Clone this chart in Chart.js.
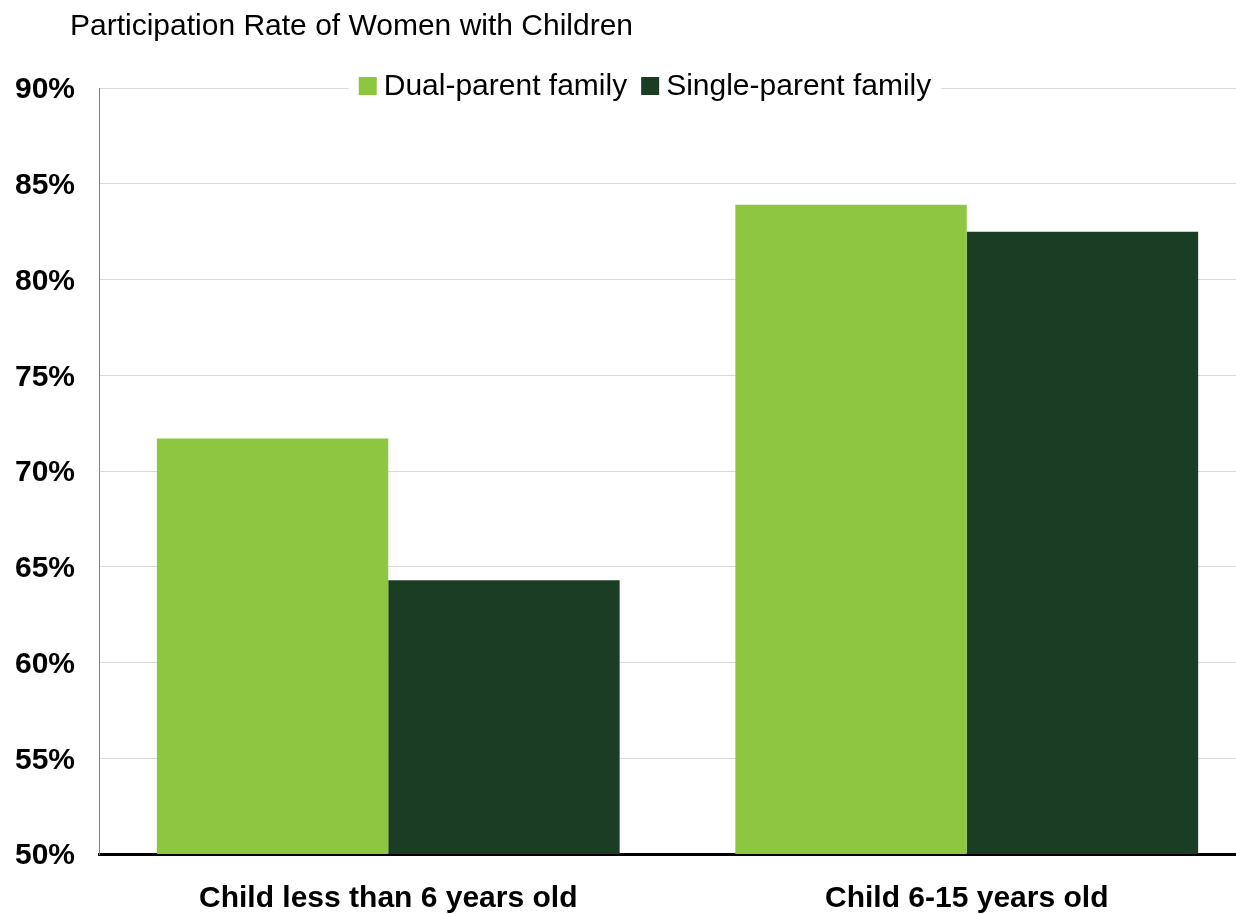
<!DOCTYPE html>
<html>
<head>
<meta charset="utf-8">
<script src="https://cdn.jsdelivr.net/npm/chart.js@4/dist/chart.umd.min.js"></script>
<style>
  html, body { margin: 0; padding: 0; background: #fff; overflow: hidden; }
  #wrap { position: absolute; left: 0; top: 0; width: 1256px; height: 914px; }
  #title { position: absolute; left: 70px; top: 8px; font: 30px "Liberation Sans", Arial, sans-serif; color: #000; line-height: 34px; }
</style>
</head>
<body>
<div id="wrap"><canvas id="chart" width="1256" height="914"></canvas></div>
<div id="title">Participation Rate of Women with Children</div>
<script>
const categories = ["Child less than 6 years old", "Child 6-15 years old"];
const dualParent = [71.7, 83.9];
const singleParent = [64.3, 82.5];
const yTicks = [50, 55, 60, 65, 70, 75, 80, 85, 90];

const FONT = '"Liberation Sans", Arial, sans-serif';

// legend drawn over the top gridline, with white background
const overlayLegend = {
  id: "overlayLegend",
  afterDraw(chart) {
    const ctx = chart.ctx;
    const items = chart.data.datasets.map(d => ({ label: d.label, color: d.backgroundColor }));
    ctx.save();
    ctx.font = "30px " + FONT;
    const box = 18, gap = 7, spacing = 14;
    let total = 0;
    items.forEach((it, i) => {
      it.w = box + gap + ctx.measureText(it.label).width;
      total += it.w + (i ? spacing : 0);
    });
    const cx = 645, cy = 86;
    let x = cx - total / 2;
    ctx.fillStyle = "#fff";
    ctx.fillRect(x - 10, cy - 18, total + 20, 36);
    ctx.textBaseline = "middle";
    items.forEach(it => {
      ctx.fillStyle = it.color;
      ctx.fillRect(x, cy - box / 2, box, box);
      ctx.fillStyle = "#000";
      ctx.fillText(it.label, x + box + gap, cy + 1);
      x += it.w + spacing;
    });
    ctx.restore();
  }
};

new Chart(document.getElementById("chart"), {
  type: "bar",
  data: {
    labels: categories,
    datasets: [
      { label: "Dual-parent family", data: dualParent, backgroundColor: "#8DC63F" },
      { label: "Single-parent family", data: singleParent, backgroundColor: "#1A3D23" }
    ]
  },
  options: {
    responsive: false,
    animation: false,
    layout: { padding: { top: 88, left: 0, right: 0, bottom: 0 } },
    plugins: { legend: { display: false }, tooltip: { enabled: false } },
    datasets: { bar: { categoryPercentage: 0.8, barPercentage: 1.0 } },
    scales: {
      x: {
        grid: { display: false, drawTicks: false },
        border: { color: "#000", width: 3 },
        ticks: { color: "#000", font: { family: FONT, size: 30, weight: "bold" }, padding: 27 },
        afterFit(s) { s.height = 60; }
      },
      y: {
        min: 50, max: 90,
        afterBuildTicks(s) { s.ticks = yTicks.map(v => ({ value: v })); },
        grid: { color: "#D9D9D9", lineWidth: 1, drawTicks: false },
        border: { color: "#808080", width: 1 },
        ticks: {
          color: "#000", padding: 24, labelOffset: 2,
          font: { family: FONT, size: 30, weight: "bold" },
          callback: v => v + "%"
        },
        afterFit(s) { s.width = 99; }
      }
    }
  },
  plugins: [overlayLegend]
});
</script>
</body>
</html>
